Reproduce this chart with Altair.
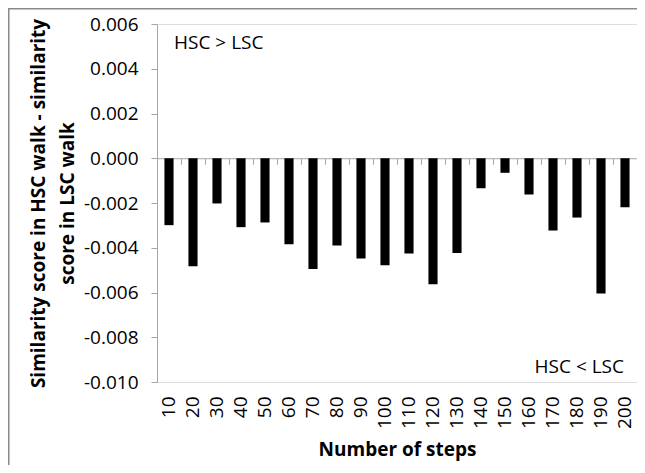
import altair as alt
import pandas as pd

steps = [10, 20, 30, 40, 50, 60, 70, 80, 90, 100,
         110, 120, 130, 140, 150, 160, 170, 180, 190, 200]
diff = [-0.00299, -0.00483, -0.00202, -0.00308, -0.00287, -0.00384, -0.00495, -0.00390, -0.00448, -0.00478,
        -0.00426, -0.00563, -0.00423, -0.00134, -0.00065, -0.00162, -0.00323, -0.00265, -0.00605, -0.00219]
y_ticks = [-0.010, -0.008, -0.006, -0.004, -0.002, 0.000, 0.002, 0.004, 0.006]
notes = ["HSC > LSC", "HSC < LSC"]
note_steps = [10, 200]
note_y = [0.00514, -0.00934]
note_side = ["left", "right"]

df = pd.DataFrame({"steps": steps, "diff": diff})
notes_df = pd.DataFrame({"label": notes, "steps": note_steps, "y": note_y, "side": note_side})

FONT = "Open Sans"
GRAY = "#a6a6a6"
FRAME = "#8a8a8a"
W, H = 480, 358
y_domain = [-0.010, 0.006]
zero_offset = -(H * (0 - y_domain[0]) / (y_domain[1] - y_domain[0]))
half_step = W / len(steps) / 2

xscale = alt.Scale(paddingInner=0.62, paddingOuter=0.31)
yscale = alt.Scale(domain=y_domain, nice=False, zero=False)

bars = alt.Chart(df).mark_bar(color="black").encode(
    x=alt.X("steps:O", sort=None, scale=xscale,
            axis=alt.Axis(orient="bottom", title="Number of steps", labelAngle=270, domain=False, ticks=False,
                          labelFont=FONT, labelFontSize=19, labelColor="black", labelPadding=14,
                          titleFont=FONT, titleFontSize=19, titleFontWeight="bold", titleColor="black",
                          titlePadding=12)),
    y=alt.Y("diff:Q", scale=yscale,
            axis=alt.Axis(values=y_ticks, title=["Similarity score in HSC walk - similarity", "score in LSC walk"],
                          labelExpr="replace(format(datum.value, '.3f'), '\u2212', '-')",
                          grid=False, domainColor=GRAY, tickColor=GRAY, tickSize=6,
                          labelFont=FONT, labelFontSize=19, labelColor="black", labelPadding=13,
                          titleFont=FONT, titleFontSize=19, titleFontWeight="bold", titleColor="black",
                          titleLineHeight=29, titlePadding=6)),
)

zero_axis = alt.Chart(df).mark_point(opacity=0).encode(
    x=alt.X("steps:O", sort=None, scale=xscale,
            axis=alt.Axis(orient="bottom", title=None, labels=False, domain=True, ticks=True,
                          tickOffset=-half_step, domainColor=GRAY, tickColor=GRAY, tickSize=6,
                          tickWidth=1, offset=zero_offset)),
    y=alt.value(0),
)

text_left = alt.Chart(notes_df).transform_filter(alt.datum.side == "left").mark_text(
    font=FONT, fontSize=19, color="black", baseline="middle", align="left", dx=5
).encode(
    x=alt.X("steps:O", sort=None, scale=xscale, axis=None),
    y=alt.Y("y:Q", scale=yscale),
    text="label:N",
)
text_right = alt.Chart(notes_df).transform_filter(alt.datum.side == "right").mark_text(
    font=FONT, fontSize=19, color="black", baseline="middle", align="right", dx=-1
).encode(
    x=alt.X("steps:O", sort=None, scale=xscale, axis=None),
    y=alt.Y("y:Q", scale=yscale),
    text="label:N",
)

one = notes_df.iloc[[0]]
frame_top = alt.Chart(one).mark_rule(color=FRAME, strokeWidth=1.5).encode(
    x=alt.value(-149), x2=alt.value(W + 20), y=alt.value(-15.25)
)
frame_left = alt.Chart(one).mark_rule(color=FRAME, strokeWidth=1.5).encode(
    x=alt.value(-148.25), y=alt.value(-16), y2=alt.value(H + 120)
)

chart = alt.layer(bars, zero_axis, text_left, text_right, frame_top, frame_left).resolve_axis(x="independent").properties(
    width=W, height=H,
    autosize=alt.AutoSizeParams(type="none"),
    padding={"left": 149, "top": 16, "right": 0, "bottom": 83},
).configure_view(strokeWidth=0).configure(background="white")

chart.save("out.html", embed_options={"renderer": "svg", "actions": False})
